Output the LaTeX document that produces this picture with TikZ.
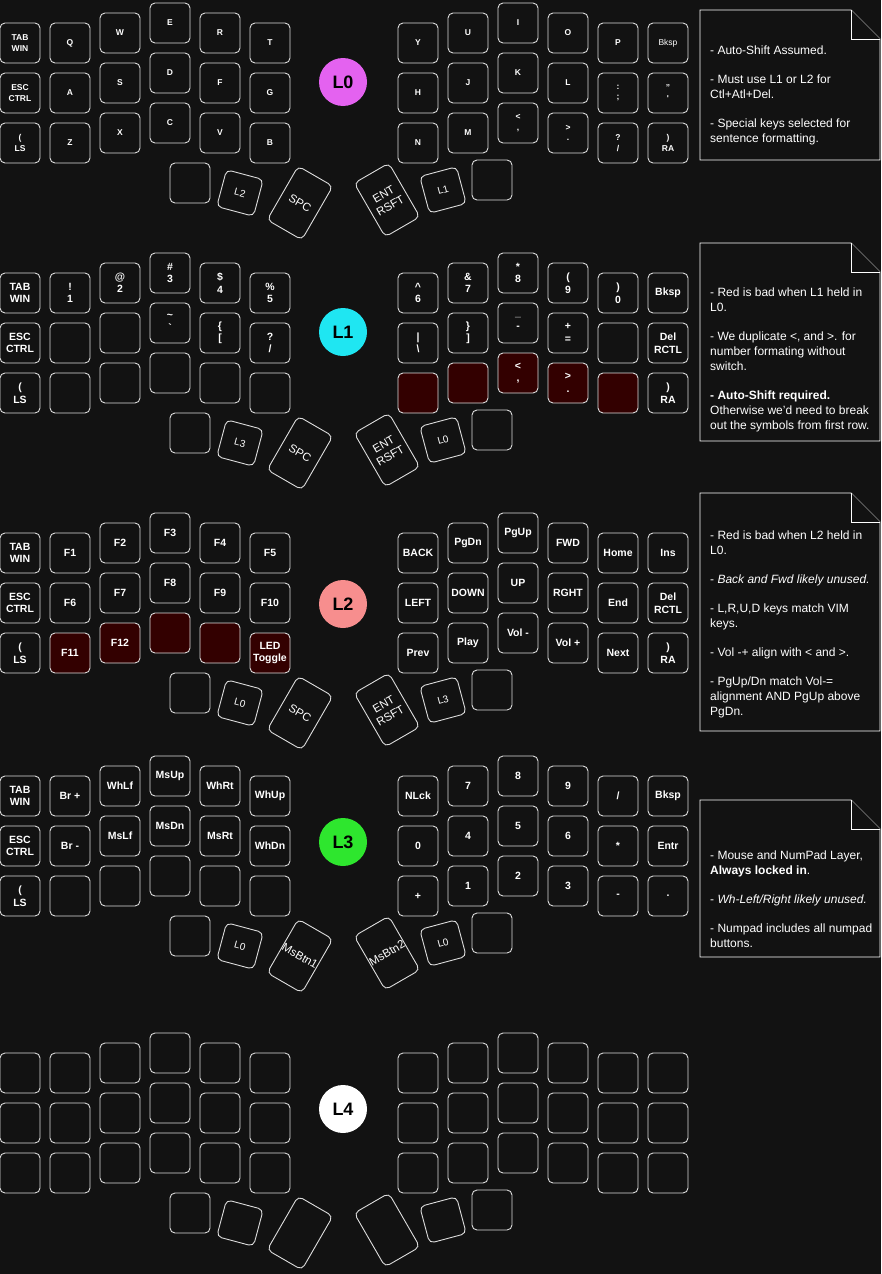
\documentclass[tikz,border=0pt]{standalone}
\usepackage{fontspec}
\setmainfont{Liberation Sans}
\usepackage{tikz}
\usetikzlibrary{positioning}

\definecolor{bgdark}{HTML}{121212}
\definecolor{keyline}{HTML}{DDDDDD}
\definecolor{badred}{HTML}{330000}
\definecolor{lzero}{HTML}{E462F0}
\definecolor{lone}{HTML}{1FE6F2}
\definecolor{ltwo}{HTML}{F78E8E}
\definecolor{lthree}{HTML}{2EE62E}

\newcommand\smallkey{\bfseries\fontsize{8.5}{10.5}\selectfont}
\newcommand\bigkey{\bfseries\fontsize{10.5}{12.5}\selectfont}
\newcommand\thumbsmall{\fontsize{10}{12}\selectfont}
\newcommand\thumbbig{\fontsize{11.5}{13.5}\selectfont}

% one half-row of keys per column, 12 columns x 3 rows
\newcommand\drawlayer[4]{%
  \foreach \t/\s [count=\i from 0] in {#4}{
    \pgfmathtruncatemacro\c{mod(\i,12)}
    \pgfmathtruncatemacro\r{int(\i/12)}
    \pgfmathsetmacro\kx{{20,70,120,170,220,270,418,468,518,568,618,668}[\c]}
    \pgfmathsetmacro\ky{#2+50*\r+{0,0,-10,-20,-10,0,0,-10,-20,-10,0,0}[\c]}
    \node[key,\s,font=#3] (L#1k\i) at (\kx,\ky) {\t};
  }}

% thumb cluster
\newcommand\drawthumbs[6]{%
  \node[key] (L#1t1) at (190,#2+140) {};
  \node[key,minimum size=38,rotate=-15,font=\thumbsmall] (L#1t2) at (240,#2+150) {#3};
  \node[key,tall,rotate=-30,font=\thumbbig] (L#1t3) at (300,#2+160) {#4};
  \node[key,tall,rotate=30,font=\thumbbig] (L#1t4) at (387,#2+157) {#5};
  \node[key,minimum size=38,rotate=15,font=\thumbsmall] (L#1t5) at (443,#2+147) {#6};
  \node[key] (L#1t6) at (492,#2+137) {};
}

\begin{document}
\begin{tikzpicture}[
  x=1pt, y=-1pt,
  key/.style={rectangle, rounded corners=5pt, draw=keyline, line width=0.9pt, fill=bgdark, text=white, inner sep=0pt, align=center, minimum width=40, minimum height=40},
  ok/.style={},
  bad/.style={fill=badred},
  tall/.style={minimum width=40, minimum height=62},
  layer/.style={circle, minimum size=48, inner sep=0pt, font=\bfseries\fontsize{18}{20}\selectfont, text=black},
  note/.style={draw=white, line width=0.9pt, fill=bgdark},
  notetext/.style={anchor=north west, inner sep=0pt, align=left, text=white, font=\fontsize{12}{15}\selectfont}
]
\fill[bgdark] (0,0) rectangle (881,1274);
\useasboundingbox (0,0) rectangle (881,1274);

% Layer 0
\drawlayer{0}{43}{\smallkey}{{TAB\\WIN}/ok,Q/ok,W/ok,E/ok,R/ok,T/ok,Y/ok,U/ok,I/ok,O/ok,P/ok,{\mdseries Bksp}/ok,
  {ESC\\CTRL}/ok,A/ok,S/ok,D/ok,F/ok,G/ok,H/ok,J/ok,K/ok,L/ok,{:\\;}/ok,{"\\\textquotesingle}/ok,
  {(\\LS}/ok,Z/ok,X/ok,C/ok,V/ok,B/ok,N/ok,M/ok,{<\\,}/ok,{>\\.}/ok,{?\\/}/ok,{)\\RA}/ok}
\drawthumbs{0}{43}{L2}{SPC}{ENT\\RSFT}{L1}
\node[layer, fill=lzero] (L0) at (343,82) {L0};

% Layer 1
\drawlayer{1}{293}{\bigkey}{{TAB\\WIN}/ok,{!\\1}/ok,{@\\2}/ok,{\#\\3}/ok,{\$\\4}/ok,{\%\\5}/ok,{\textasciicircum\\6}/ok,{\&\\7}/ok,{*\\8}/ok,{(\\9}/ok,{)\\0}/ok,Bksp/ok,
  {ESC\\CTRL}/ok,{}/ok,{}/ok,{\textasciitilde\\\textasciigrave}/ok,{\{\\{}[}/ok,{?\\/}/ok,{|\\\textbackslash}/ok,{\}\\{}]}/ok,{\_\\-}/ok,{+\\=}/ok,{}/ok,{Del\\RCTL}/ok,
  {(\\LS}/ok,{}/ok,{}/ok,{}/ok,{}/ok,{}/ok,{}/bad,{}/bad,{<\\,}/bad,{>\\.}/bad,{}/bad,{)\\RA}/ok}
\drawthumbs{1}{293}{L3}{SPC}{ENT\\RSFT}{L0}
\node[layer, fill=lone] (L1) at (343,332) {L1};

% Layer 2
\drawlayer{2}{553}{\bigkey}{{TAB\\WIN}/ok,F1/ok,F2/ok,F3/ok,F4/ok,F5/ok,BACK/ok,PgDn/ok,PgUp/ok,FWD/ok,Home/ok,Ins/ok,
  {ESC\\CTRL}/ok,F6/ok,F7/ok,F8/ok,F9/ok,F10/ok,LEFT/ok,DOWN/ok,UP/ok,RGHT/ok,End/ok,{Del\\RCTL}/ok,
  {(\\LS}/ok,F11/bad,F12/bad,{}/bad,{}/bad,{LED\\Toggle}/bad,Prev/ok,Play/ok,{Vol -}/ok,{Vol +}/ok,Next/ok,{)\\RA}/ok}
\drawthumbs{2}{553}{L0}{SPC}{ENT\\RSFT}{L3}
\node[layer, fill=ltwo] (L2) at (343,604) {L2};

% Layer 3
\drawlayer{3}{796}{\bigkey}{{TAB\\WIN}/ok,{Br +}/ok,WhLf/ok,MsUp/ok,WhRt/ok,WhUp/ok,NLck/ok,7/ok,8/ok,9/ok,{/}/ok,Bksp/ok,
  {ESC\\CTRL}/ok,{Br -}/ok,MsLf/ok,MsDn/ok,MsRt/ok,WhDn/ok,0/ok,4/ok,5/ok,6/ok,*/ok,Entr/ok,
  {(\\LS}/ok,{}/ok,{}/ok,{}/ok,{}/ok,{}/ok,+/ok,1/ok,2/ok,3/ok,-/ok,./ok}
\drawthumbs{3}{796}{L0}{MsBtn1}{MsBtn2}{L0}
\node[layer, fill=lthree] (L3) at (343,842) {L3};

% Layer 4
\drawlayer{4}{1073}{\bigkey}{{}/ok,{}/ok,{}/ok,{}/ok,{}/ok,{}/ok,{}/ok,{}/ok,{}/ok,{}/ok,{}/ok,{}/ok,
  {}/ok,{}/ok,{}/ok,{}/ok,{}/ok,{}/ok,{}/ok,{}/ok,{}/ok,{}/ok,{}/ok,{}/ok,
  {}/ok,{}/ok,{}/ok,{}/ok,{}/ok,{}/ok,{}/ok,{}/ok,{}/ok,{}/ok,{}/ok,{}/ok}
\drawthumbs{4}{1073}{}{}{}{}
\node[layer, fill=white] (L4) at (343,1109) {L4};

% Notes
\draw[note] (700,10) -- (851,10) -- (880,39) -- (880,160) -- (700,160) -- cycle;
\draw[note] (851,10) -- (851,39) -- (880,39);
\node[notetext] (n0) at (710,46) {- Auto-Shift Assumed.\\[14pt]- Must use L1 or L2 for\\Ctl+Atl+Del.\\[14pt]- Special keys selected for\\sentence formatting.};

\draw[note] (700,243) -- (851,243) -- (880,272) -- (880,441) -- (700,441) -- cycle;
\draw[note] (851,243) -- (851,272) -- (880,272);
\node[notetext] (n1) at (710,288) {- Red is bad when L1 held in\\L0.\\[14pt]- We duplicate <, and >. for\\number formating without\\switch.\\[14pt]\textbf{- Auto-Shift required.}\\Otherwise we'd need to break\\out the symbols from first row.};

\draw[note] (700,493) -- (851,493) -- (880,522) -- (880,731) -- (700,731) -- cycle;
\draw[note] (851,493) -- (851,522) -- (880,522);
\node[notetext] (n2) at (710,531) {- Red is bad when L2 held in\\L0.\\[14pt]- \textit{Back and Fwd likely unused.}\\[14pt]- L,R,U,D keys match VIM\\keys.\\[14pt]- Vol -+ align with < and >.\\[14pt]- PgUp/Dn match Vol-=\\alignment AND PgUp above\\PgDn.};

\draw[note] (700,800) -- (851,800) -- (880,829) -- (880,957) -- (700,957) -- cycle;
\draw[note] (851,800) -- (851,829) -- (880,829);
\node[notetext] (n3) at (710,851) {- Mouse and NumPad Layer,\\\textbf{Always locked in}.\\[14pt]- \textit{Wh-Left/Right likely unused.}\\[14pt]- Numpad includes all numpad\\buttons.};

\end{tikzpicture}
\end{document}
